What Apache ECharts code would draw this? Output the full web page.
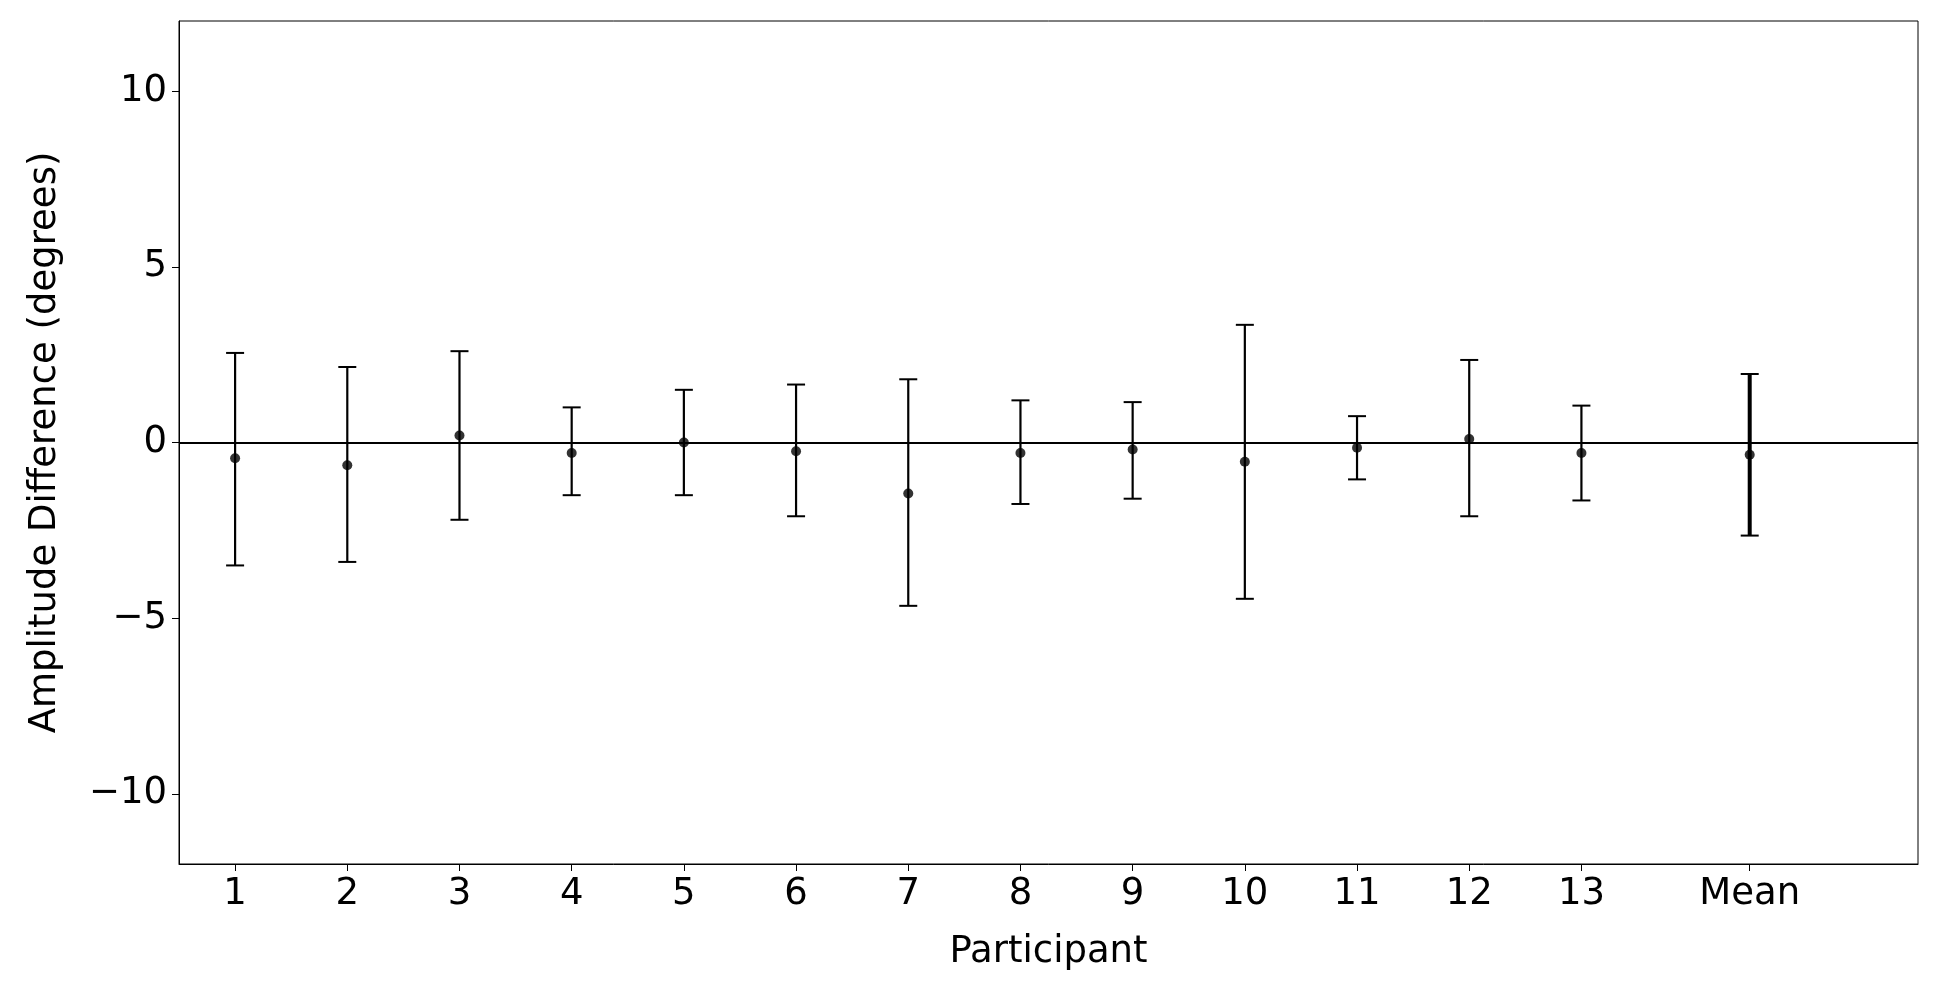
<!DOCTYPE html><html><head><meta charset="utf-8"><script src="https://cdn.jsdelivr.net/npm/echarts@6/dist/echarts.min.js"></script>
<style>html,body{margin:0;background:#fff}#c{width:1953px;height:999px}</style></head><body><div id="c"></div><script>
const categories=['1','2','3','4','5','6','7','8','9','10','11','12','13','Mean'];
const xPositions=[1,2,3,4,5,6,7,8,9,10,11,12,13,14.5];
const means=[-0.45,-0.65,0.2,-0.3,0.0,-0.25,-1.45,-0.3,-0.2,-0.55,-0.15,0.1,-0.3,-0.35];
const upper=[2.55,2.15,2.6,1.0,1.5,1.65,1.8,1.2,1.15,3.35,0.75,2.35,1.05,1.95];
const lower=[-3.5,-3.4,-2.2,-1.5,-1.5,-2.1,-4.65,-1.75,-1.6,-4.45,-1.05,-2.1,-1.65,-2.65];
const yTicks=[-10,-5,0,5,10];
const font='DejaVu Sans';
const errData=xPositions.map((x,i)=>[x,lower[i],upper[i],i]);
const ptData=xPositions.map((x,i)=>[x,means[i]]);
const chart=echarts.init(document.getElementById('c'));
chart.setOption({
 animation:false,
 grid:{left:179,right:35,top:21,bottom:135},
 xAxis:{type:'value',min:0.5,max:16,name:'Participant',nameLocation:'middle',nameGap:70,
  nameTextStyle:{fontFamily:font,fontSize:37,color:'#000'},
  axisLine:{onZero:false,lineStyle:{color:'#000',width:1}},
  axisTick:{show:true,length:7,lineStyle:{color:'#000'},customValues:xPositions},
  axisLabel:{fontFamily:font,fontSize:37,color:'#000',margin:12,customValues:xPositions,
   formatter:v=>{const i=xPositions.findIndex(p=>Math.abs(p-v)<1e-6);return i>=0?categories[i]:'';}},
  splitLine:{show:false}},
 yAxis:{type:'value',min:-12,max:12,name:'Amplitude Difference (degrees)',nameLocation:'middle',nameGap:115,
  nameTextStyle:{fontFamily:font,fontSize:37,color:'#000'},
  axisLine:{show:true,lineStyle:{color:'#000',width:1}},
  axisTick:{show:true,length:7,lineStyle:{color:'#000'},customValues:yTicks},
  axisLabel:{fontFamily:font,fontSize:37,color:'#000',margin:12,customValues:yTicks,formatter:v=>v<0?'\u2212'+Math.abs(v):String(v)},
  splitLine:{show:false}},
 series:[
  {type:'custom',data:errData,z:3,encode:{x:0,y:[1,2]},
   renderItem:(p,api)=>{const x=api.value(0);const lo=api.coord([x,api.value(1)]);const hi=api.coord([x,api.value(2)]);
    const isMean=api.value(3)===13;const w=isMean?4:2.2;const cap=9;
    const st={stroke:'#000',lineWidth:w};
    return {type:'group',children:[
     {type:'line',shape:{x1:lo[0],y1:lo[1],x2:hi[0],y2:hi[1]},style:st},
     {type:'line',shape:{x1:lo[0]-cap,y1:lo[1],x2:lo[0]+cap,y2:lo[1]},style:{stroke:'#000',lineWidth:2}},
     {type:'line',shape:{x1:hi[0]-cap,y1:hi[1],x2:hi[0]+cap,y2:hi[1]},style:{stroke:'#000',lineWidth:2}}]};}},
  {type:'scatter',data:ptData,symbolSize:10,itemStyle:{color:'#000'},z:4,
   markLine:{symbol:'none',silent:true,label:{show:false},lineStyle:{color:'#000',width:2,type:'solid'},data:[{yAxis:0}]}},
  {type:'line',data:[],markArea:{silent:true,itemStyle:{color:'transparent',borderColor:'#000',borderWidth:1},data:[[{xAxis:0.5,yAxis:12},{xAxis:16,yAxis:-12}]]}}
 ]});
</script></body></html>
